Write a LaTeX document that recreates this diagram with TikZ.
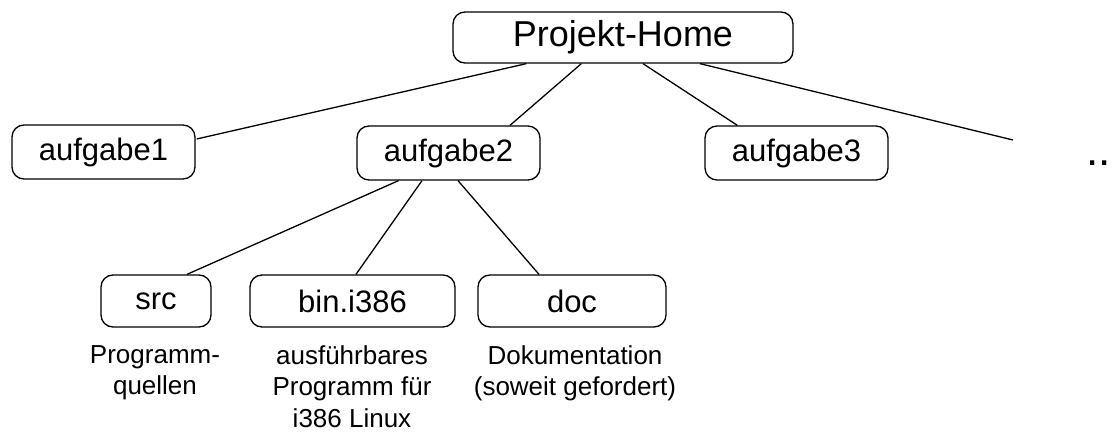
\documentclass[tikz,border=0pt]{standalone}
\usepackage{fontspec}
\setmainfont{Liberation Sans}
\usetikzlibrary{calc}
\tikzset{
  dirbox/.style={draw, line width=1.3pt, rounded corners=12pt, inner sep=0pt,
    minimum height=53pt, font=\fontsize{31}{36}\selectfont},
  desc/.style={align=center, inner sep=0pt, font=\fontsize{26}{31.5}\selectfont},
  conn/.style={line width=1.3pt}
}
\begin{document}
\begin{tikzpicture}[x=1pt,y=-1pt]
\useasboundingbox (0,0) rectangle (1112,436);
\node[dirbox, minimum width=340pt, minimum height=51pt, font=\fontsize{36}{42}\selectfont] (ph) at (623,37.5) {Projekt-Home};
\node[dirbox, minimum width=183pt, minimum height=54pt] (a1) at (103.5,152) {aufgabe1};
\node[dirbox, minimum width=183pt, minimum height=54pt] (a2) at (448.5,153) {aufgabe2};
\node[dirbox, minimum width=183pt, minimum height=54pt] (a3) at (796.5,153) {aufgabe3};
\node[inner sep=0pt, font=\fontsize{44}{48}\selectfont, anchor=base west] (dots) at (1086,165) {..};
\coordinate (more) at (1013,140);
\node[dirbox, minimum width=110pt, minimum height=52pt] (src) at (156,301) {src};
\node[dirbox, minimum width=205pt, minimum height=52pt] (bin) at (352.5,301) {bin.i386};
\node[dirbox, minimum width=188pt, minimum height=52pt] (doc) at (572,301) {doc};
\node[desc, anchor=north] (srcd) at (155,345) {Programm-\\quellen};
\node[desc, anchor=north] (bind) at (352,345) {ausführbares\\Programm für\\i386 Linux};
\node[desc, anchor=north] (docd) at (575,345) {Dokumentation\\(soweit gefordert)};
\draw[conn] ($(ph.south west)+(74,0)$) -- ($(a1.east)+(1,-13)$);
\draw[conn] ($(ph.south west)+(129,0)$) -- ($(a2.north)+(61.5,0)$);
\draw[conn] ($(ph.south)+(20,0)$) -- ($(a3.north west)+(33,0)$);
\draw[conn] ($(ph.south)+(77,0)$) -- (more);
\draw[conn] ($(a2.south)+(-50,0)$) -- ($(src.north)+(31,0)$);
\draw[conn] ($(a2.south)+(-26.5,0)$) -- ($(bin.north)+(3.5,0)$);
\draw[conn] ($(a2.south)+(9.5,0)$) -- ($(doc.north)+(-33,0)$);
\end{tikzpicture}
\end{document}
